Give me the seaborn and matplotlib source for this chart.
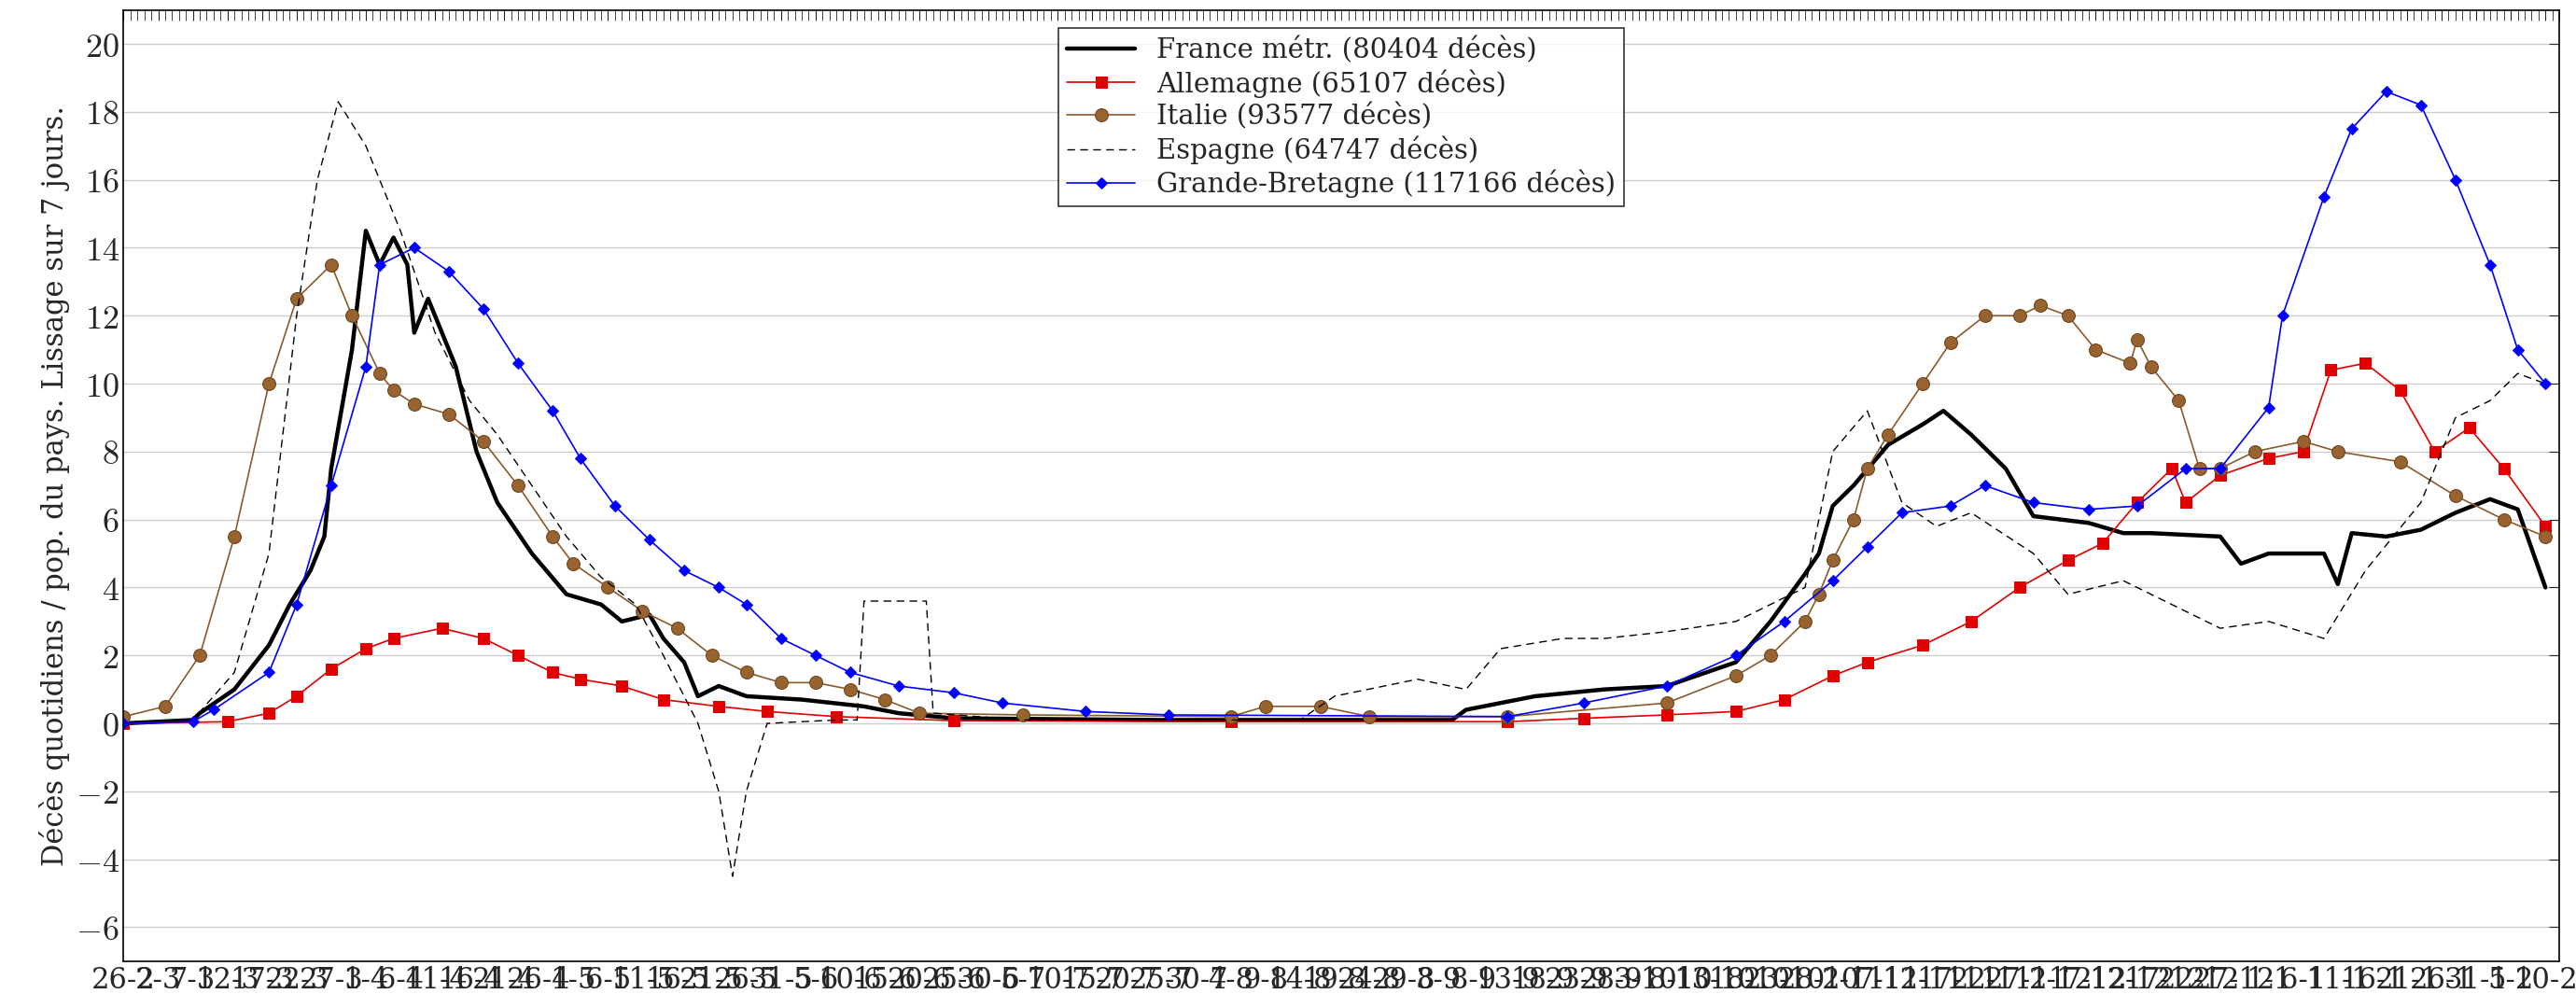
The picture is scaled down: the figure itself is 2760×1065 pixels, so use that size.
import datetime as dt
import numpy as np
import pandas as pd
import matplotlib
matplotlib.use('Agg')
import matplotlib.pyplot as plt
import seaborn as sns

# day index 0 = 26-2-2020
fr_days = [0, 10, 11, 16, 21, 24, 27, 29, 30, 33, 35, 37, 39, 41, 42, 44, 46, 48, 51, 54, 59, 64, 69, 72, 76, 78, 81, 83, 86, 90, 98, 107, 112, 120, 150, 192, 194, 204, 214, 223, 233, 238, 243, 245, 247, 250, 255, 260, 263, 267, 272, 276, 284, 289, 293, 303, 306, 310, 318, 320, 322, 327, 332, 337, 342, 346, 350]
fr_vals = [0, 0.1, 0.3, 1.0, 2.3, 3.5, 4.5, 5.5, 7.5, 11, 14.5, 13.5, 14.3, 13.5, 11.5, 12.5, 11.5, 10.5, 8.0, 6.5, 5.0, 3.8, 3.5, 3.0, 3.2, 2.5, 1.8, 0.8, 1.1, 0.8, 0.7, 0.5, 0.3, 0.15, 0.1, 0.1, 0.4, 0.8, 1.0, 1.1, 1.8, 3.0, 4.4, 5.0, 6.4, 7.0, 8.2, 8.8, 9.2, 8.5, 7.5, 6.1, 5.9, 5.6, 5.6, 5.5, 4.7, 5.0, 5.0, 4.1, 5.6, 5.5, 5.7, 6.2, 6.6, 6.3, 4.0]

de_days = [0, 15, 21, 25, 30, 35, 39, 46, 52, 57, 62, 66, 72, 78, 86, 93, 103, 120, 160, 200, 211, 223, 233, 240, 247, 252, 260, 267, 274, 281, 286, 291, 296, 298, 303, 310, 315, 319, 324, 329, 334, 339, 344, 350]
de_vals = [0, 0.05, 0.3, 0.8, 1.6, 2.2, 2.5, 2.8, 2.5, 2.0, 1.5, 1.3, 1.1, 0.7, 0.5, 0.35, 0.2, 0.08, 0.05, 0.05, 0.15, 0.25, 0.35, 0.7, 1.4, 1.8, 2.3, 3.0, 4.0, 4.8, 5.3, 6.5, 7.5, 6.5, 7.3, 7.8, 8.0, 10.4, 10.6, 9.8, 8.0, 8.7, 7.5, 5.8]

it_days = [0, 6, 11, 16, 21, 25, 30, 33, 37, 39, 42, 47, 52, 57, 62, 65, 70, 75, 80, 85, 90, 95, 100, 105, 110, 115, 130, 160, 165, 173, 180, 200, 223, 233, 238, 243, 245, 247, 250, 252, 255, 260, 264, 269, 274, 277, 281, 285, 290, 291, 293, 297, 300, 303, 308, 315, 320, 329, 337, 344, 350]
it_vals = [0.2, 0.5, 2.0, 5.5, 10.0, 12.5, 13.5, 12.0, 10.3, 9.8, 9.4, 9.1, 8.3, 7.0, 5.5, 4.7, 4.0, 3.3, 2.8, 2.0, 1.5, 1.2, 1.2, 1.0, 0.7, 0.3, 0.25, 0.2, 0.5, 0.5, 0.2, 0.2, 0.6, 1.4, 2.0, 3.0, 3.8, 4.8, 6.0, 7.5, 8.5, 10.0, 11.2, 12.0, 12.0, 12.3, 12.0, 11.0, 10.6, 11.3, 10.5, 9.5, 7.5, 7.5, 8.0, 8.3, 8.0, 7.7, 6.7, 6.0, 5.5]

es_days = [0, 10, 16, 21, 25, 28, 31, 35, 40, 45, 50, 54, 59, 64, 69, 74, 78, 83, 86, 88, 90, 93, 103, 106, 107, 115, 116, 117, 130, 170, 175, 187, 194, 199, 208, 214, 223, 233, 243, 247, 252, 257, 262, 267, 276, 281, 289, 296, 303, 310, 318, 324, 332, 337, 342, 346, 350]
es_vals = [0, 0.1, 1.5, 5.0, 12.0, 16.0, 18.3, 17.0, 14.5, 11.5, 9.5, 8.5, 7.0, 5.5, 4.3, 3.5, 2.0, 0.0, -2.0, -4.5, -2.0, 0.0, 0.1, 0.1, 3.6, 3.6, 3.6, 0.3, 0.1, 0.1, 0.8, 1.3, 1.0, 2.2, 2.5, 2.5, 2.7, 3.0, 4.0, 8.0, 9.2, 6.5, 5.8, 6.2, 5.0, 3.8, 4.2, 3.5, 2.8, 3.0, 2.5, 4.5, 6.5, 9.0, 9.5, 10.3, 10.0]

uk_days = [0, 10, 13, 21, 25, 30, 35, 37, 42, 47, 52, 57, 62, 66, 71, 76, 81, 86, 90, 95, 100, 105, 112, 120, 127, 139, 151, 200, 211, 223, 233, 240, 247, 252, 257, 264, 269, 276, 284, 291, 298, 303, 310, 312, 318, 322, 327, 332, 337, 342, 346, 350]
uk_vals = [0, 0.05, 0.4, 1.5, 3.5, 7.0, 10.5, 13.5, 14.0, 13.3, 12.2, 10.6, 9.2, 7.8, 6.4, 5.4, 4.5, 4.0, 3.5, 2.5, 2.0, 1.5, 1.1, 0.9, 0.6, 0.35, 0.25, 0.2, 0.6, 1.1, 2.0, 3.0, 4.2, 5.2, 6.2, 6.4, 7.0, 6.5, 6.3, 6.4, 7.5, 7.5, 9.3, 12.0, 15.5, 17.5, 18.6, 18.2, 16.0, 13.5, 11.0, 10.0]

labels = ['France métr. (80404 décès)', 'Allemagne (65107 décès)', 'Italie (93577 décès)',
          'Espagne (64747 décès)', 'Grande-Bretagne (117166 décès)']

start = dt.date(2020, 2, 26)
n_days = 350
tick_pos = list(range(0, n_days + 1, 5))
tick_lab = [f'{(start + dt.timedelta(d)).day}-{(start + dt.timedelta(d)).month}' for d in tick_pos]

sns.set_style('white')
plt.rcParams['font.family'] = ['DejaVu Serif']
plt.rcParams['mathtext.fontset'] = 'cm'
plt.rcParams['axes.formatter.use_mathtext'] = True

fig = plt.figure(figsize=(27.6, 10.65), dpi=100)
ax = fig.add_axes([0.048, 0.033, 0.9455, 0.957])

ax.grid(axis='y', color='#cccccc', lw=1)
ax.set_axisbelow(True)

sns.lineplot(x=fr_days, y=fr_vals, ax=ax, color='black', lw=3.2, label=labels[0])
sns.lineplot(x=de_days, y=de_vals, ax=ax, color='#e00000', lw=1.2, marker='s', markersize=8,
             markeredgecolor='#e00000', label=labels[1])
sns.lineplot(x=it_days, y=it_vals, ax=ax, color='#8b5a2b', lw=1.2, marker='o', markersize=10,
             markerfacecolor='#99632f', markeredgecolor='#6b4420', label=labels[2])
sns.lineplot(x=es_days, y=es_vals, ax=ax, color='black', lw=1.0, ls=(0, (6, 4)), label=labels[3])
sns.lineplot(x=uk_days, y=uk_vals, ax=ax, color='blue', lw=1.2, marker='D', markersize=6,
             markeredgecolor='blue', label=labels[4])

ax.set_xlim(0, 352)
ax.set_ylim(-7, 21)
ax.set_yticks(range(-6, 21, 2))
ax.set_yticklabels([f'${v}$' if v >= 0 else f'$-{-v}$' for v in range(-6, 21, 2)])
ax.set_xticks(tick_pos)
ax.set_xticklabels(tick_lab)
ax.set_xticks(range(0, 353), minor=True)
ax.tick_params(axis='x', which='both', direction='in', top=True, labelsize=22, length=8, pad=4)
ax.tick_params(axis='x', which='minor', length=8, width=0.6)
ax.tick_params(axis='y', direction='in', right=True, labelsize=26, length=8)
for s in ax.spines.values():
    s.set_linewidth(1.2)
    s.set_color('black')
ax.set_ylabel('Décès quotidiens / pop. du pays. Lissage sur 7 jours.', fontsize=22)

leg = ax.legend(loc='upper center', bbox_to_anchor=(0.5, 0.995), fontsize=21, frameon=True,
                fancybox=False, edgecolor='black', handlelength=2.5, borderpad=0.3,
                labelspacing=0.2, markerfirst=True)
leg.get_frame().set_linewidth(1.2)

fig.savefig('out.png', dpi=100)
